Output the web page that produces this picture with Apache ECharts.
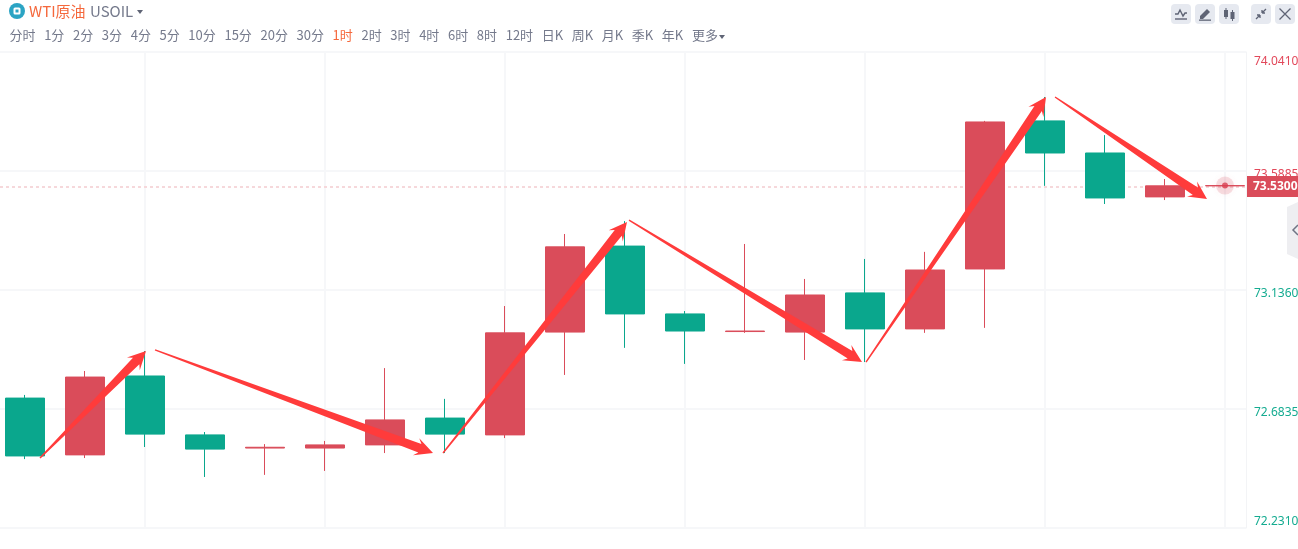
<!DOCTYPE html>
<html>
<head>
<meta charset="utf-8">
<title>WTI原油 USOIL</title>
<script src="https://cdn.jsdelivr.net/npm/echarts@6/dist/echarts.min.js"></script>
<style>
  html, body { margin: 0; padding: 0; background: #fff; overflow: hidden; }
  body { width: 1298px; height: 549px; position: relative; font-family: "Noto Sans CJK SC", "Noto Sans", sans-serif; }
  #chart { position: absolute; left: 0; top: 0; width: 1298px; height: 549px; }
  .title { position: absolute; left: 9px; top: 1px; height: 20px; line-height: 20px; font-size: 15px; color: #757a8c; white-space: nowrap; }
  .title svg { position: absolute; left: 0; top: 2px; }
  .title .name { position: absolute; left: 20px; color: #f5683c; }
  .title .code { position: absolute; left: 81px; }
  .caret { display: inline-block; width: 0; height: 0; border: 3.5px solid transparent; border-top: 4px solid #5f6475; border-bottom: 0; }
  .title .caret { position: absolute; left: 128px; top: 9px; }
  .tabs { position: absolute; left: 9.5px; top: 25px; display: flex; gap: 8.64px; font-size: 13px; line-height: 20px; color: #757a8c; white-space: nowrap; }
  .tabs .active { color: #f5683c; }
  .tabs .caret { margin-left: 1px; vertical-align: 1px; }
  .btn { position: absolute; top: 4px; width: 20px; height: 20px; border-radius: 4px; background: #e6e9f0; }
  .side { position: absolute; left: 1287px; top: 202px; }
</style>
</head>
<body>
<div id="chart"></div>
<div class="title">
  <svg width="16" height="16" viewBox="0 0 16 16"><circle cx="8" cy="8" r="8" fill="#2ba4c4"/><rect x="4.5" y="4.5" width="7" height="7" rx="1.5" fill="#fff"/><rect x="6.5" y="6.5" width="3" height="3" fill="#2ba4c4"/></svg>
  <span class="name">WTI原油</span><span class="code">USOIL</span><span class="caret"></span>
</div>
<div class="tabs" id="tabs"></div>
<div class="btn" style="left:1171px"><svg width="20" height="20" fill="none" stroke="#5f6475" stroke-width="1.4"><path d="M4 10h3l2-4 3 6 2-3h2"/><path d="M4 15h12"/></svg></div>
<div class="btn" style="left:1195px"><svg width="20" height="20" fill="#5f6475"><path d="M5 12l7-7 3 3-7 7H5z"/><rect x="4" y="15.5" width="12" height="1.3"/></svg></div>
<div class="btn" style="left:1219px"><svg width="20" height="20" fill="#5f6475"><rect x="5" y="6" width="4" height="7"/><rect x="6.5" y="4" width="1" height="11"/><rect x="11.5" y="8" width="4" height="7"/><rect x="13" y="6" width="1" height="11"/></svg></div>
<div class="btn" style="left:1251px"><svg width="20" height="20" fill="none" stroke="#5f6475" stroke-width="1.3"><path d="M5 15l4-4M9 11H6M9 11v3M15 5l-4 4M11 9h3M11 9V6"/></svg></div>
<div class="btn" style="left:1275px"><svg width="20" height="20" fill="none" stroke="#5f6475" stroke-width="1.3"><path d="M4.500 4.500l11 11M15.500 4.500l-11 11"/></svg></div>
<svg class="side" width="11" height="57"><path d="M11 0L0 5v47l11 5z" fill="#eeeef1"/><path d="M11 23l-5 5 5 5" fill="none" stroke="#6f7484" stroke-width="1.5"/></svg>
<script>
  const tabLabels = ["分时", "1分", "2分", "3分", "4分", "5分", "10分", "15分", "20分", "30分", "1时", "2时", "3时", "4时", "6时", "8时", "12时", "日K", "周K", "月K", "季K", "年K"];
  const activeTab = "1时";

  const priceTicks = [72.231, 72.6835, 73.136, 73.5885, 74.041];
  const lastPrice = 73.533;
  const lastPriceLabel = "73.5300";

  // position on the time axis, one per hour bar
  const barIndex = [1, 2, 3, 4, 5, 6, 7, 8, 9, 10, 11, 12, 13, 14, 15, 16, 17, 18, 19, 20, 21];
  const timeGridBars = [3, 6, 9, 12, 15, 18, 21];
  const opens = [72.725, 72.509, 72.809, 72.585, 72.535, 72.535, 72.547, 72.649, 72.585, 72.976, 73.303, 73.045, 72.978, 72.976, 73.125, 72.988, 73.216, 73.779, 73.657, 73.49, 73.532];
  const closes = [72.505, 72.805, 72.588, 72.531, 72.538, 72.547, 72.642, 72.588, 72.973, 73.3, 73.045, 72.98, 72.98, 73.117, 72.988, 73.212, 73.775, 73.657, 73.486, 73.532, 73.533];
  const lows = [72.493, 72.497, 72.539, 72.425, 72.433, 72.448, 72.516, 72.516, 72.573, 72.813, 72.916, 72.855, 72.973, 72.87, 72.862, 72.973, 72.992, 73.532, 73.463, 73.478, 73.532];
  const highs = [72.737, 72.828, 72.904, 72.596, 72.55, 72.562, 72.839, 72.722, 73.075, 73.349, 73.398, 73.056, 73.311, 73.178, 73.254, 73.281, 73.779, 73.87, 73.725, 73.558, 73.533];

  // hand drawn arrows: [bar position, price]
  const arrowStarts = [[1.25, 72.497], [3.167, 72.908], [7.967, 72.516], [11.067, 73.402], [15.017, 72.862], [18.167, 73.87]];
  const arrowEnds = [[3.017, 72.904], [7.8, 72.516], [11.033, 73.395], [14.95, 72.862], [18.017, 73.87], [20.7, 73.482]];

  const upColor = "#da4c5a";
  const downColor = "#0aa78d";
  const arrowColor = "#ff3b3b";

  const tabs = document.getElementById("tabs");
  tabLabels.forEach((label) => {
    const span = document.createElement("span");
    span.textContent = label;
    if (label === activeTab) {
      span.className = "active";
    }
    tabs.appendChild(span);
  });
  const more = document.createElement("span");
  more.innerHTML = '更多<i class="caret"></i>';
  tabs.appendChild(more);

  function renderArrow(params, api) {
    const from = api.coord([api.value(0), api.value(1)]);
    const to = api.coord([api.value(2), api.value(3)]);
    const dx = to[0] - from[0];
    const dy = to[1] - from[1];
    const len = Math.hypot(dx, dy);
    const ux = dx / len;
    const uy = dy / len;
    const at = (back, side) => [to[0] - ux * back - uy * side, to[1] - uy * back + ux * side];
    return {
      type: "polygon",
      shape: { points: [at(len, 0.7), at(14, 4.5), at(18, 9), to, at(18, -9), at(14, -4.5), at(len, -0.7)] },
      style: { fill: arrowColor }
    };
  }

  const lastPoint = [barIndex[barIndex.length - 1], lastPrice];

  const chart = echarts.init(document.getElementById("chart"), null, { renderer: "canvas" });
  chart.setOption({
    animation: false,
    grid: { left: 0, right: 52, top: 52, bottom: 21, outerBoundsMode: "none" },
    xAxis: {
      type: "value",
      min: 0.5833,
      max: 21.35,
      axisLine: { show: false },
      axisTick: { show: false, customValues: timeGridBars },
      axisLabel: { show: false, customValues: timeGridBars },
      splitLine: { show: true, lineStyle: { color: "#f6f7f9", width: 2 } }
    },
    yAxis: {
      type: "value",
      position: "right",
      min: priceTicks[0],
      max: priceTicks[priceTicks.length - 1],
      axisLine: { show: true, lineStyle: { color: "#f3f4f6", width: 1 } },
      axisTick: { show: false, customValues: priceTicks },
      splitLine: { show: true, lineStyle: { color: "#f6f7f9", width: 2 } },
      axisLabel: {
        customValues: priceTicks,
        margin: 8,
        verticalAlignMaxLabel: "top",
        verticalAlignMinLabel: "bottom",
        formatter: (value) => {
          const text = value.toFixed(4);
          if (value === priceTicks[0]) return `{green|${text}}`;
          if (value === priceTicks[4]) return `{redTop|${text}}`;
          return value > lastPrice ? `{redMid|${text}}` : `{greenMid|${text}}`;
        },
        rich: {
          redTop: { color: "#e2485a", fontSize: 12, fontFamily: "Noto Sans", padding: [4, 0, 0, 0] },
          green: { color: "#14ab90", fontSize: 12, fontFamily: "Noto Sans" },
          redMid: { color: "#e2485a", fontSize: 12, fontFamily: "Noto Sans", padding: [8, 0, 0, 0] },
          greenMid: { color: "#14ab90", fontSize: 12, fontFamily: "Noto Sans", padding: [8, 0, 0, 0] }
        }
      }
    },
    series: [
      {
        type: "candlestick",
        z: 2,
        barWidth: 40,
        encode: { x: 0, y: [1, 2, 3, 4] },
        data: barIndex.map((x, i) => [x, opens[i], closes[i], lows[i], highs[i]]),
        itemStyle: { color: upColor, color0: downColor, borderColor: upColor, borderColor0: downColor, borderWidth: 1 },
        markLine: {
          z: 1,
          silent: true,
          symbol: "none",
          lineStyle: { color: "#f6d8db", type: [3, 3], width: 2 },
          label: {
            position: "end",
            distance: 1,
            formatter: lastPriceLabel,
            color: "#fff",
            fontSize: 12,
            fontWeight: "bold",
            fontFamily: "Noto Sans",
            backgroundColor: upColor,
            padding: [5, 2, 4, 6]
          },
          data: [{ yAxis: lastPrice }]
        }
      },
      {
        type: "scatter",
        z: 3,
        symbolSize: 18,
        itemStyle: { color: "rgba(218,76,90,0.22)", shadowBlur: 6, shadowColor: "rgba(218,76,90,0.3)" },
        data: [lastPoint]
      },
      {
        type: "scatter",
        z: 3,
        symbolSize: 6,
        itemStyle: { color: "#d93f50" },
        data: [lastPoint]
      },
      {
        type: "custom",
        z: 4,
        clip: false,
        renderItem: renderArrow,
        encode: { x: [0, 2], y: [1, 3] },
        data: arrowStarts.map((start, i) => [start[0], start[1], arrowEnds[i][0], arrowEnds[i][1]])
      }
    ]
  });
  window.addEventListener("resize", () => chart.resize());
</script>
</body>
</html>
